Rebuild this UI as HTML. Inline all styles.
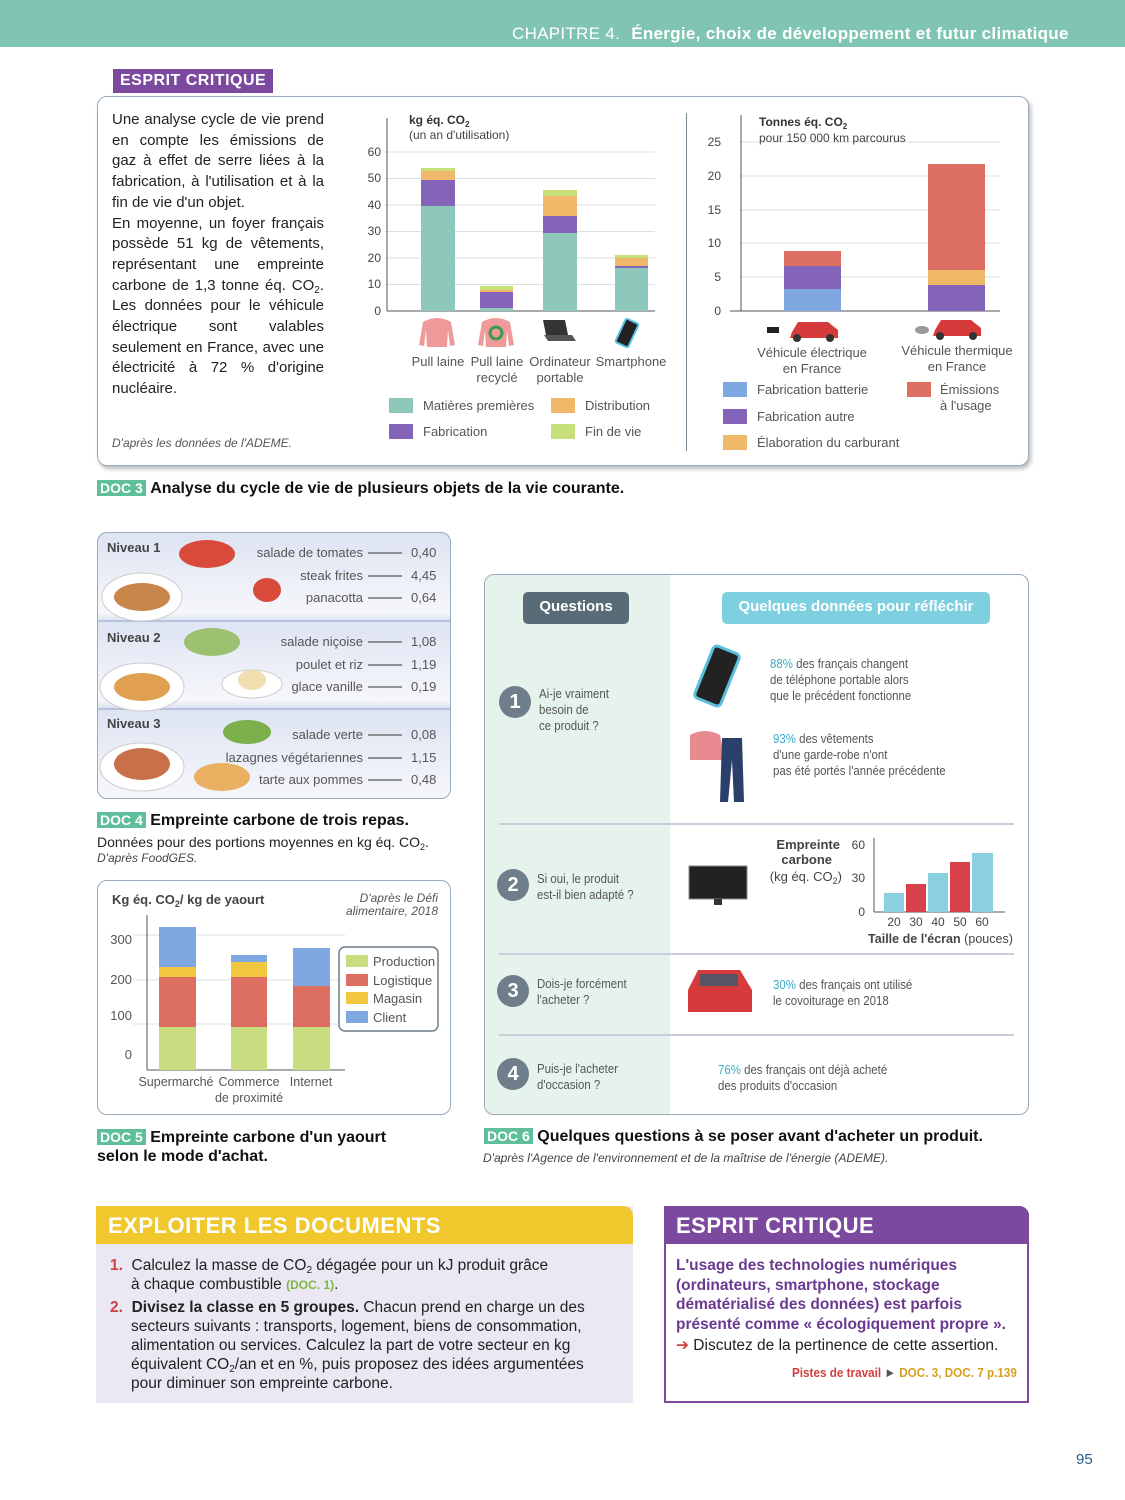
<!DOCTYPE html>
<html><head><meta charset="utf-8"><style>
*{margin:0;padding:0;box-sizing:border-box}
body{width:1125px;height:1500px;background:#fff;position:relative;font-family:"Liberation Sans",sans-serif;color:#222;overflow:hidden}
sub{line-height:0;vertical-align:-3px}
.a{position:absolute}
.n{font-family:"Liberation Sans",sans-serif;font-size:13px;color:#555;transform:scaleX(.88);transform-origin:left top;white-space:nowrap}
.t{font-size:15px;line-height:20.7px;color:#222}
.doc{background:#5fbf9b;color:#fff;font-weight:bold;font-size:14px;padding:0 3px}
.cap{font-weight:bold;font-size:16px;color:#111}
.g{background:#6e7e8a}
</style></head><body>
<div class="a" style="left:0;top:0;width:1125px;height:47px;background:#80c4b2"></div>
<div class="a" style="left:512px;top:24px;color:#fff;font-size:17px;letter-spacing:.3px">CHAPITRE 4. <b style="margin-left:6px">Énergie, choix de développement et futur climatique</b></div>

<div class="a" style="left:97px;top:96px;width:932px;height:370px;border:1.5px solid #9ab;border-radius:10px;box-shadow:2px 3px 4px #bbb"></div>
<div class="a" style="left:113px;top:69px;background:#7b4a9e;color:#fff;font-size:16px;font-weight:bold;padding:3px 7px;letter-spacing:.5px">ESPRIT CRITIQUE</div>
<div class="a t" style="left:112px;top:110px;width:212px;text-align:justify">Une analyse cycle de vie prend en compte les émissions de gaz à effet de serre liées à la fabrication, à l'utilisation et à la fin de vie d'un objet.<br>En moyenne, un foyer français possède 51 kg de vêtements, représentant une empreinte carbone de 1,3 tonne éq. CO<sub style="font-size:10px">2</sub>. Les données pour le véhicule électrique sont valables seulement en France, avec une électricité à 72 % d'origine nucléaire.</div>
<div class="a" style="left:112px;top:436px;font-size:12px;font-style:italic;color:#555">D'après les données de l'ADEME.</div>
<div class="a" style="left:686px;top:113px;width:1px;height:338px;background:#7a8a95"></div>

<svg class="a" style="left:0;top:0" width="1125" height="1500" font-family="Liberation Sans" font-size="12" fill="#444">
<g stroke="#d8e0e0"><line x1="385" x2="655" y1="152" y2="152"/><line x1="385" x2="655" y1="178.5" y2="178.5"/><line x1="385" x2="655" y1="205" y2="205"/><line x1="385" x2="655" y1="231.5" y2="231.5"/><line x1="385" x2="655" y1="258" y2="258"/><line x1="385" x2="655" y1="284.5" y2="284.5"/></g>
<line x1="387" y1="118" x2="387" y2="311" stroke="#555"/><line x1="387" y1="311" x2="655" y2="311" stroke="#555"/>
<g text-anchor="end"><text x="381" y="156">60</text><text x="381" y="182">50</text><text x="381" y="209">40</text><text x="381" y="235">30</text><text x="381" y="262">20</text><text x="381" y="288">10</text><text x="381" y="315">0</text></g>
<text x="409" y="124" font-weight="bold" fill="#333">kg éq. CO<tspan font-size="8" dy="3">2</tspan></text>
<text x="409" y="139">(un an d'utilisation)</text>
<rect x="421" y="206" width="34" height="105" fill="#8dc8bb"/><rect x="421" y="180" width="34" height="26" fill="#8464b8"/><rect x="421" y="171" width="34" height="9" fill="#f0b96a"/><rect x="421" y="168" width="34" height="3" fill="#c8e07a"/>
<rect x="480" y="308" width="33" height="3" fill="#8dc8bb"/><rect x="480" y="292" width="33" height="16" fill="#8464b8"/><rect x="480" y="290" width="33" height="2" fill="#f0b96a"/><rect x="480" y="286" width="33" height="4" fill="#c8e07a"/>
<rect x="543" y="233" width="34" height="78" fill="#8dc8bb"/><rect x="543" y="216" width="34" height="17" fill="#8464b8"/><rect x="543" y="196" width="34" height="20" fill="#f0b96a"/><rect x="543" y="190" width="34" height="6" fill="#c8e07a"/>
<rect x="615" y="267" width="33" height="44" fill="#8dc8bb"/><rect x="615" y="266" width="33" height="2" fill="#8464b8"/><rect x="615" y="258" width="33" height="8" fill="#f0b96a"/><rect x="615" y="255" width="33" height="3" fill="#c8e07a"/>
<path d="M423 322 Q437 314 451 322 L455 345 L450 346 L448 330 L447 347 L427 347 L426 330 L424 346 L419 345Z" fill="#ef9a9a"/>
<path d="M482 322 Q496 314 510 322 L514 345 L509 346 L507 330 L506 347 L486 347 L485 330 L483 346 L478 345Z" fill="#ef9a9a"/><circle cx="496" cy="333" r="6" fill="none" stroke="#3a9a4a" stroke-width="3"/>
<path d="M543 320 L565 320 L568 335 L546 335Z" fill="#333"/><path d="M544 335 L572 335 L576 341 L548 341Z" fill="#555"/>
<rect x="620" y="320" width="14" height="26" rx="2" fill="#222" stroke="#5bc0de" stroke-width="2" transform="rotate(25 627 333)"/>
<g text-anchor="middle" fill="#555" font-size="13"><text x="438" y="366">Pull laine</text><text x="497" y="366">Pull laine</text><text x="497" y="382">recyclé</text><text x="560" y="366">Ordinateur</text><text x="560" y="382">portable</text><text x="631" y="366">Smartphone</text></g>
<rect x="389" y="398" width="24" height="15" fill="#8dc8bb"/><text x="423" y="410" font-size="13" fill="#555">Matières premières</text>
<rect x="551" y="398" width="24" height="15" fill="#f0b96a"/><text x="585" y="410" font-size="13" fill="#555">Distribution</text>
<rect x="389" y="424" width="24" height="15" fill="#8464b8"/><text x="423" y="436" font-size="13" fill="#555">Fabrication</text>
<rect x="551" y="424" width="24" height="15" fill="#c8e07a"/><text x="585" y="436" font-size="13" fill="#555">Fin de vie</text>
<g stroke="#d8e0e0"><line x1="740" x2="1000" y1="142" y2="142"/><line x1="740" x2="1000" y1="176" y2="176"/><line x1="740" x2="1000" y1="210" y2="210"/><line x1="740" x2="1000" y1="243" y2="243"/><line x1="740" x2="1000" y1="277" y2="277"/></g>
<line x1="741" y1="115" x2="741" y2="311" stroke="#555"/><line x1="730" y1="311" x2="1000" y2="311" stroke="#555"/>
<g text-anchor="end"><text x="721" y="146">25</text><text x="721" y="180">20</text><text x="721" y="214">15</text><text x="721" y="247">10</text><text x="721" y="281">5</text><text x="721" y="315">0</text></g>
<text x="759" y="126" font-weight="bold" fill="#333">Tonnes éq. CO<tspan font-size="8" dy="3">2</tspan></text>
<text x="759" y="142">pour 150 000 km parcourus</text>
<rect x="784" y="289" width="57" height="22" fill="#7fa8e0"/><rect x="784" y="266" width="57" height="23" fill="#8464b8"/><rect x="784" y="251" width="57" height="15" fill="#dd6f62"/>
<rect x="928" y="285" width="57" height="26" fill="#8464b8"/><rect x="928" y="270" width="57" height="15" fill="#f0b96a"/><rect x="928" y="164" width="57" height="106" fill="#dd6f62"/>
<path d="M792 332 L798 322 L828 322 L838 330 L838 338 L790 338Z" fill="#d63a3a"/><circle cx="797" cy="338" r="4" fill="#333"/><circle cx="830" cy="338" r="4" fill="#333"/><rect x="767" y="327" width="12" height="6" fill="#222"/>
<path d="M935 330 L941 320 L971 320 L981 328 L981 336 L933 336Z" fill="#d63a3a"/><circle cx="940" cy="336" r="4" fill="#333"/><circle cx="973" cy="336" r="4" fill="#333"/><ellipse cx="922" cy="330" rx="7" ry="4" fill="#999"/>
<g text-anchor="middle" fill="#555" font-size="13"><text x="812" y="357">Véhicule électrique</text><text x="812" y="373">en France</text><text x="957" y="355">Véhicule thermique</text><text x="957" y="371">en France</text></g>
<rect x="723" y="382" width="24" height="15" fill="#7fa8e0"/><text x="757" y="394" font-size="13" fill="#555">Fabrication batterie</text>
<rect x="723" y="409" width="24" height="15" fill="#8464b8"/><text x="757" y="421" font-size="13" fill="#555">Fabrication autre</text>
<rect x="723" y="435" width="24" height="15" fill="#f0b96a"/><text x="757" y="447" font-size="13" fill="#555">Élaboration du carburant</text>
<rect x="907" y="382" width="24" height="15" fill="#dd6f62"/><text x="940" y="394" font-size="13" fill="#555">Émissions</text><text x="940" y="410" font-size="13" fill="#555">à l'usage</text>
</svg>

<div class="a" style="left:97px;top:480px"><span class="doc">DOC 3</span> <span class="cap">Analyse du cycle de vie de plusieurs objets de la vie courante.</span></div>

<div class="a" style="left:97px;top:532px;width:354px;height:267px;border:1.5px solid #9ab;border-radius:10px;overflow:hidden;background:linear-gradient(#dde3f2,#f6f7fb 30%,#dde3f2 33%,#f6f7fb 63%,#dde3f2 66%,#f6f7fb)">
</div>
<div class="a" style="left:98px;top:620px;width:352px;height:2px;background:#b8c2dc"></div>
<div class="a" style="left:98px;top:708px;width:352px;height:2px;background:#b8c2dc"></div>
<div class="a" style="left:107px;top:540px;font-weight:bold;font-size:13px;color:#444">Niveau 1</div>
<div class="a" style="left:107px;top:630px;font-weight:bold;font-size:13px;color:#444">Niveau 2</div>
<div class="a" style="left:107px;top:716px;font-weight:bold;font-size:13px;color:#444">Niveau 3</div>
<svg class="a" style="left:97px;top:532px" width="354" height="267" font-family="Liberation Sans" font-size="13" fill="#555">
<ellipse cx="45" cy="65" rx="40" ry="24" fill="#fff" stroke="#ccc"/><ellipse cx="45" cy="65" rx="28" ry="14" fill="#c8864a"/>
<ellipse cx="110" cy="22" rx="28" ry="14" fill="#d84a3a"/><ellipse cx="170" cy="58" rx="14" ry="12" fill="#d84a3a"/>
<ellipse cx="45" cy="155" rx="42" ry="24" fill="#fff" stroke="#ccc"/><ellipse cx="45" cy="155" rx="28" ry="14" fill="#e0a050"/>
<ellipse cx="115" cy="110" rx="28" ry="14" fill="#9ac070"/><ellipse cx="155" cy="152" rx="30" ry="14" fill="#fff" stroke="#ccc"/><ellipse cx="155" cy="148" rx="14" ry="10" fill="#f0e0b0"/>
<ellipse cx="45" cy="235" rx="42" ry="24" fill="#fff" stroke="#ccc"/><ellipse cx="45" cy="232" rx="28" ry="16" fill="#c8704a"/>
<ellipse cx="150" cy="200" rx="24" ry="12" fill="#7cb04a"/><ellipse cx="125" cy="245" rx="28" ry="14" fill="#e8b060"/>
<g text-anchor="end"><text x="266" y="25">salade de tomates</text><text x="266" y="48">steak frites</text><text x="266" y="70">panacotta</text><text x="266" y="114">salade niçoise</text><text x="266" y="137">poulet et riz</text><text x="266" y="159">glace vanille</text><text x="266" y="207">salade verte</text><text x="266" y="230">lazagnes végétariennes</text><text x="266" y="252">tarte aux pommes</text></g>
<g stroke="#333"><line x1="271" x2="305" y1="21" y2="21"/><line x1="271" x2="305" y1="44" y2="44"/><line x1="271" x2="305" y1="66" y2="66"/><line x1="271" x2="305" y1="110" y2="110"/><line x1="271" x2="305" y1="133" y2="133"/><line x1="271" x2="305" y1="155" y2="155"/><line x1="271" x2="305" y1="203" y2="203"/><line x1="271" x2="305" y1="226" y2="226"/><line x1="271" x2="305" y1="248" y2="248"/></g>
<g><text x="314" y="25">0,40</text><text x="314" y="48">4,45</text><text x="314" y="70">0,64</text><text x="314" y="114">1,08</text><text x="314" y="137">1,19</text><text x="314" y="159">0,19</text><text x="314" y="207">0,08</text><text x="314" y="230">1,15</text><text x="314" y="252">0,48</text></g>
</svg>
<div class="a" style="left:97px;top:812px"><span class="doc">DOC 4</span> <span class="cap">Empreinte carbone de trois repas.</span></div>
<div class="a" style="left:97px;top:834px;font-size:14px">Données pour des portions moyennes en kg éq. CO<sub style="font-size:9px">2</sub>.</div>
<div class="a" style="left:97px;top:851px;font-size:12px;font-style:italic;color:#444">D'après FoodGES.</div>

<div class="a" style="left:97px;top:880px;width:354px;height:235px;border:1.5px solid #9ab;border-radius:10px"></div>
<svg class="a" style="left:0;top:0" width="460" height="1120" font-family="Liberation Sans" font-size="13" fill="#555">
<text x="112" y="904" font-weight="bold" fill="#444">Kg éq. CO<tspan font-size="9" dy="3">2</tspan><tspan dy="-3">/ kg de yaourt</tspan></text>
<text x="438" y="902" text-anchor="end" font-style="italic" font-size="12">D'après le Défi</text><text x="438" y="915" text-anchor="end" font-style="italic" font-size="12">alimentaire, 2018</text>
<g stroke="#d8e0e0"><line x1="133" x2="345" y1="935" y2="935"/><line x1="133" x2="345" y1="980" y2="980"/><line x1="133" x2="345" y1="1024" y2="1024"/></g>
<line x1="147" y1="915" x2="147" y2="1070" stroke="#555"/><line x1="147" y1="1070" x2="345" y2="1070" stroke="#555"/>
<g text-anchor="end"><text x="132" y="944">300</text><text x="132" y="984">200</text><text x="132" y="1020">100</text><text x="132" y="1059">0</text></g>
<rect x="159" y="1027" width="37" height="43" fill="#c8dc80"/><rect x="159" y="977" width="37" height="50" fill="#dd6f62"/><rect x="159" y="967" width="37" height="10" fill="#f2c840"/><rect x="159" y="927" width="37" height="40" fill="#7fa8e0"/>
<rect x="231" y="1027" width="36" height="43" fill="#c8dc80"/><rect x="231" y="977" width="36" height="50" fill="#dd6f62"/><rect x="231" y="962" width="36" height="15" fill="#f2c840"/><rect x="231" y="955" width="36" height="7" fill="#7fa8e0"/>
<rect x="293" y="1027" width="37" height="43" fill="#c8dc80"/><rect x="293" y="986" width="37" height="41" fill="#dd6f62"/><rect x="293" y="948" width="37" height="38" fill="#7fa8e0"/>
<rect x="339" y="947" width="99" height="84" rx="6" fill="#fff" stroke="#6b7d8a" stroke-width="1.5"/>
<rect x="346" y="955" width="22" height="12" fill="#c8dc80"/><text x="373" y="966">Production</text>
<rect x="346" y="974" width="22" height="12" fill="#dd6f62"/><text x="373" y="985">Logistique</text>
<rect x="346" y="992" width="22" height="12" fill="#f2c840"/><text x="373" y="1003">Magasin</text>
<rect x="346" y="1011" width="22" height="12" fill="#7fa8e0"/><text x="373" y="1022">Client</text>
<g text-anchor="middle" font-size="12.5"><text x="176" y="1086">Supermarché</text><text x="249" y="1086">Commerce</text><text x="249" y="1102">de proximité</text><text x="311" y="1086">Internet</text></g>
</svg>
<div class="a" style="left:97px;top:1128px;line-height:19px"><span class="doc">DOC 5</span> <span class="cap">Empreinte carbone d'un yaourt<br>selon le mode d'achat.</span></div>

<div class="a" style="left:484px;top:574px;width:545px;height:541px;border:1.5px solid #9ab;border-radius:10px;overflow:hidden;background:#fff"><div style="width:185px;height:100%;background:#e6f3ec"></div></div>
<div class="a" style="left:523px;top:592px;width:106px;height:32px;border-radius:5px;background:#5a6b78;color:#fff;font-weight:bold;font-size:15px;text-align:center;line-height:30px">Questions</div>
<div class="a" style="left:722px;top:592px;width:268px;height:32px;border-radius:5px;background:#7ecfe0;color:#fff;font-weight:bold;font-size:15px;text-align:center;line-height:30px">Quelques données pour réfléchir</div>
<div class="a" style="left:499px;top:823px;width:515px;height:2px;background:#ccd"></div>
<div class="a" style="left:499px;top:953px;width:515px;height:2px;background:#ccd"></div>
<div class="a" style="left:499px;top:1034px;width:515px;height:2px;background:#ccd"></div>
<div class="a g" style="left:499px;top:686px;width:32px;height:32px;border-radius:50%;color:#fff;font-size:20px;font-weight:bold;text-align:center;line-height:32px">1</div>
<div class="a g" style="left:497px;top:869px;width:32px;height:32px;border-radius:50%;color:#fff;font-size:20px;font-weight:bold;text-align:center;line-height:32px">2</div>
<div class="a g" style="left:497px;top:975px;width:32px;height:32px;border-radius:50%;color:#fff;font-size:20px;font-weight:bold;text-align:center;line-height:32px">3</div>
<div class="a g" style="left:497px;top:1058px;width:32px;height:32px;border-radius:50%;color:#fff;font-size:20px;font-weight:bold;text-align:center;line-height:32px">4</div>
<div class="a n" style="left:539px;top:686px;line-height:16px">Ai-je vraiment<br>besoin de<br>ce produit ?</div>
<div class="a n" style="left:537px;top:871px;line-height:16px">Si oui, le produit<br>est-il bien adapté ?</div>
<div class="a n" style="left:537px;top:976px;line-height:16px">Dois-je forcément<br>l'acheter ?</div>
<div class="a n" style="left:537px;top:1061px;line-height:16px">Puis-je l'acheter<br>d'occasion ?</div>
<div class="a n" style="left:770px;top:656px;line-height:16px"><span style="color:#3aabc8">88%</span> des français changent<br>de téléphone portable alors<br>que le précédent fonctionne</div>
<div class="a n" style="left:773px;top:731px;line-height:16px"><span style="color:#3aabc8">93%</span> des vêtements<br>d'une garde-robe n'ont<br>pas été portés l'année précédente</div>
<div class="a n" style="left:773px;top:977px;line-height:16px"><span style="color:#3aabc8">30%</span> des français ont utilisé<br>le covoiturage en 2018</div>
<div class="a n" style="left:718px;top:1062px;line-height:16px"><span style="color:#3aabc8">76%</span> des français ont déjà acheté<br>des produits d'occasion</div>
<svg class="a" style="left:0;top:0" width="1125" height="1130" font-family="Liberation Sans" font-size="12" fill="#444">
<rect x="703" y="648" width="28" height="56" rx="4" fill="#222" stroke="#5bc0de" stroke-width="3" transform="rotate(22 717 676)"/>
<path d="M690 735 Q705 727 720 735 L724 760 L690 760Z" fill="#e88a90"/><path d="M722 738 L742 738 L744 802 L734 802 L732 760 L728 802 L720 802Z" fill="#2a3f6a"/>
<rect x="689" y="866" width="58" height="33" fill="#222" stroke="#888"/><rect x="714" y="899" width="8" height="6" fill="#333"/>
<path d="M688 990 L698 970 L740 970 L752 990 L752 1012 L688 1012Z" fill="#d63a3a"/><rect x="700" y="974" width="38" height="12" fill="#556"/>
<line x1="874" y1="838" x2="874" y2="912" stroke="#555"/><line x1="874" y1="912" x2="1005" y2="912" stroke="#555"/>
<rect x="884" y="893" width="20" height="19" fill="#8ad0e0"/><rect x="906" y="884" width="20" height="28" fill="#d8404a"/><rect x="928" y="873" width="20" height="39" fill="#8ad0e0"/><rect x="950" y="862" width="20" height="50" fill="#d8404a"/><rect x="972" y="853" width="21" height="59" fill="#8ad0e0"/>
<g text-anchor="end"><text x="865" y="849">60</text><text x="865" y="882">30</text><text x="865" y="916">0</text></g>
<text x="840" y="849" text-anchor="end" font-weight="bold" font-size="13">Empreinte</text><text x="832" y="864" text-anchor="end" font-weight="bold" font-size="13">carbone</text><text x="842" y="881" text-anchor="end" font-size="13">(kg éq. CO<tspan font-size="9" dy="3">2</tspan><tspan dy="-3">)</tspan></text>
<g text-anchor="middle"><text x="894" y="926">20</text><text x="916" y="926">30</text><text x="938" y="926">40</text><text x="960" y="926">50</text><text x="982" y="926">60</text></g>
<text x="868" y="943" font-size="13" textLength="145" lengthAdjust="spacingAndGlyphs"><tspan font-weight="bold">Taille de l'écran</tspan> (pouces)</text>
</svg>
<div class="a" style="left:484px;top:1128px"><span class="doc">DOC 6</span> <span class="cap">Quelques questions à se poser avant d'acheter un produit.</span></div>
<div class="a" style="left:483px;top:1151px;font-size:12px;font-style:italic;color:#444">D'après l'Agence de l'environnement et de la maîtrise de l'énergie (ADEME).</div>

<div class="a" style="left:96px;top:1206px;width:537px;height:197px;background:#ece8f3"></div>
<div class="a" style="left:96px;top:1206px;width:537px;height:38px;background:#f0c72c;border-radius:0 10px 0 0"></div>
<div class="a" style="left:108px;top:1213px;color:#fff;font-size:22px;font-weight:bold;letter-spacing:.5px">EXPLOITER LES DOCUMENTS</div>
<div class="a" style="left:110px;top:1256px;width:505px;font-size:15.5px;line-height:19px;color:#222">
<div style="padding-left:21px;text-indent:-21px"><b style="color:#d04040">1.</b>&nbsp; Calculez la masse de CO<sub style="font-size:10px">2</sub> dégagée pour un kJ produit grâce<br>à chaque combustible <b style="color:#7cb940;font-size:12px">(DOC. 1)</b>.</div>
<div style="padding-left:21px;text-indent:-21px;margin-top:3px"><b style="color:#d04040">2.</b>&nbsp; <b>Divisez la classe en 5 groupes.</b> Chacun prend en charge un des secteurs suivants : transports, logement, biens de consommation, alimentation ou services. Calculez la part de votre secteur en kg équivalent CO<sub style="font-size:10px">2</sub>/an et en %, puis proposez des idées argumentées pour diminuer son empreinte carbone.</div></div>

<div class="a" style="left:664px;top:1206px;width:365px;height:197px;border:2px solid #7b4a9e;border-radius:0 10px 0 0"></div>
<div class="a" style="left:664px;top:1206px;width:365px;height:38px;background:#7b4a9e;border-radius:0 10px 0 0"></div>
<div class="a" style="left:676px;top:1213px;color:#fff;font-size:22px;font-weight:bold;letter-spacing:.5px">ESPRIT CRITIQUE</div>
<div class="a" style="left:676px;top:1256px;width:345px;font-size:15.5px;line-height:19.5px;color:#6b3a90;font-weight:bold">L'usage des technologies numériques (ordinateurs, smartphone, stockage dématérialisé des données) est parfois présenté comme « écologiquement propre ».</div>
<div class="a" style="left:676px;top:1336px;font-size:15.5px;color:#222"><span style="color:#d04040">➔</span> Discutez de la pertinence de cette assertion.</div>
<div class="a" style="left:792px;top:1365px;font-size:13px;color:#d04040;font-weight:bold;white-space:nowrap;transform:scaleX(.9);transform-origin:left top">Pistes de travail <span style="color:#555">►</span> <span style="color:#d8a020">DOC. 3, DOC. 7 p.139</span></div>
<div class="a" style="left:1076px;top:1451px;font-size:15px;color:#2a5a8a">95</div>
</body></html>
